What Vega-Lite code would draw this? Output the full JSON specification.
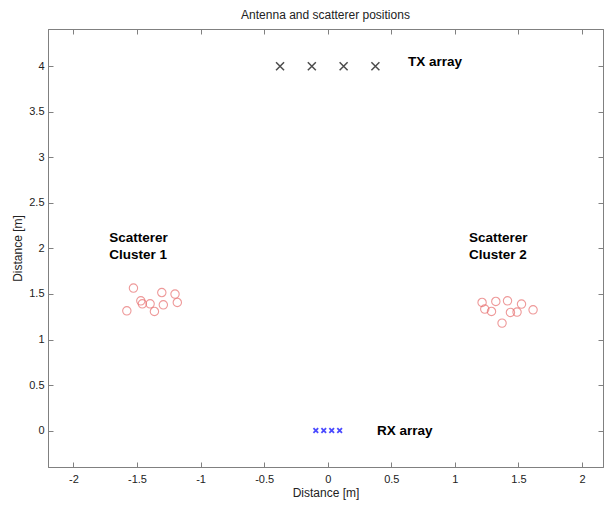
{
  "$schema": "https://vega.github.io/schema/vega-lite/v6.json",
  "autosize": "none",
  "width": 555,
  "height": 438,
  "padding": {"left": 48, "top": 29, "right": 5, "bottom": 39},
  "background": "white",
  "config": {
    "font": "Liberation Sans",
    "view": {"stroke": "#808080", "strokeWidth": 1},
    "axis": {
      "grid": false,
      "domainColor": "#808080",
      "tickColor": "#808080",
      "tickSize": -5,
      "labelFont": "Liberation Sans",
      "labelFontSize": 11,
      "labelColor": "#222222",
      "titleFont": "Liberation Sans",
      "titleFontSize": 12,
      "titleFontWeight": "normal",
      "titleColor": "#222222"
    }
  },
  "title": {
    "text": "Antenna and scatterer positions",
    "fontSize": 12,
    "fontWeight": "normal",
    "font": "Liberation Sans",
    "color": "#222222",
    "anchor": "middle",
    "offset": 7
  },
  "datasets": {
    "scatterers": [
      {"x": -1.528, "y": 1.565, "cluster": "1"},
      {"x": -1.305, "y": 1.516, "cluster": "1"},
      {"x": -1.201, "y": 1.499, "cluster": "1"},
      {"x": -1.470, "y": 1.425, "cluster": "1"},
      {"x": -1.458, "y": 1.392, "cluster": "1"},
      {"x": -1.397, "y": 1.392, "cluster": "1"},
      {"x": -1.293, "y": 1.381, "cluster": "1"},
      {"x": -1.183, "y": 1.407, "cluster": "1"},
      {"x": -1.580, "y": 1.315, "cluster": "1"},
      {"x": -1.363, "y": 1.308, "cluster": "1"},
      {"x": 1.214, "y": 1.407, "cluster": "2"},
      {"x": 1.322, "y": 1.418, "cluster": "2"},
      {"x": 1.414, "y": 1.425, "cluster": "2"},
      {"x": 1.524, "y": 1.389, "cluster": "2"},
      {"x": 1.235, "y": 1.334, "cluster": "2"},
      {"x": 1.288, "y": 1.308, "cluster": "2"},
      {"x": 1.437, "y": 1.297, "cluster": "2"},
      {"x": 1.489, "y": 1.301, "cluster": "2"},
      {"x": 1.615, "y": 1.326, "cluster": "2"},
      {"x": 1.371, "y": 1.180, "cluster": "2"}
    ],
    "tx": [
      {"x": -0.375, "y": 4},
      {"x": -0.125, "y": 4},
      {"x": 0.125, "y": 4},
      {"x": 0.375, "y": 4}
    ],
    "rx": [
      {"x": -0.09375, "y": 0},
      {"x": -0.03125, "y": 0},
      {"x": 0.03125, "y": 0},
      {"x": 0.09375, "y": 0}
    ],
    "labels": [
      {"x": 0.631, "y": 4.05, "label": "TX array"},
      {"x": 0.387, "y": 0.0, "label": "RX array"},
      {"x": -1.719, "y": 2.114, "label": "Scatterer\nCluster 1"},
      {"x": 1.111, "y": 2.114, "label": "Scatterer\nCluster 2"}
    ]
  },
  "layer": [
    {
      "data": {"name": "scatterers"},
      "mark": {"type": "point", "shape": "circle", "filled": false, "stroke": "#e86f6f", "strokeWidth": 1.1, "size": 70},
      "encoding": {
        "x": {
          "field": "x", "type": "quantitative",
          "scale": {"domain": [-2.2, 2.165], "nice": false, "zero": false},
          "axis": {"orient": "bottom", "title": "Distance [m]", "values": [-2, -1.5, -1, -0.5, 0, 0.5, 1, 1.5, 2], "labelPadding": 11, "titlePadding": 3, "labelExpr": "toString(datum.value)"}
        },
        "y": {
          "field": "y", "type": "quantitative",
          "scale": {"domain": [-0.4, 4.41], "nice": false, "zero": false},
          "axis": {"orient": "left", "title": "Distance [m]", "values": [0, 0.5, 1, 1.5, 2, 2.5, 3, 3.5, 4], "labelPadding": 9, "titlePadding": 4, "labelExpr": "toString(datum.value)"}
        }
      }
    },
    {
      "data": {"name": "tx"},
      "mark": {"type": "point", "shape": "M-1,-1L1,1M-1,1L1,-1", "filled": false, "stroke": "#000000", "strokeWidth": 1.5, "size": 64},
      "encoding": {
        "x": {
          "field": "x", "type": "quantitative",
          "scale": {"domain": [-2.2, 2.165], "nice": false, "zero": false},
          "axis": {"orient": "top", "title": null, "labels": false, "values": [-2, -1.5, -1, -0.5, 0, 0.5, 1, 1.5, 2]}
        },
        "y": {
          "field": "y", "type": "quantitative",
          "scale": {"domain": [-0.4, 4.41], "nice": false, "zero": false},
          "axis": {"orient": "right", "title": null, "labels": false, "values": [0, 0.5, 1, 1.5, 2, 2.5, 3, 3.5, 4]}
        }
      }
    },
    {
      "data": {"name": "rx"},
      "mark": {"type": "point", "shape": "M-1,-1L1,1M-1,1L1,-1", "filled": false, "stroke": "#0000ff", "strokeWidth": 1.8, "size": 22},
      "encoding": {
        "x": {"field": "x", "type": "quantitative", "scale": {"domain": [-2.2, 2.165], "nice": false, "zero": false}, "axis": null},
        "y": {"field": "y", "type": "quantitative", "scale": {"domain": [-0.4, 4.41], "nice": false, "zero": false}, "axis": null}
      }
    },
    {
      "data": {"name": "labels"},
      "mark": {"type": "text", "align": "left", "baseline": "middle", "fontWeight": "bold", "fontSize": 13.5, "font": "Liberation Sans", "color": "#000000", "lineBreak": "\n", "lineHeight": 17.4},
      "encoding": {
        "x": {"field": "x", "type": "quantitative", "scale": {"domain": [-2.2, 2.165], "nice": false, "zero": false}, "axis": null},
        "y": {"field": "y", "type": "quantitative", "scale": {"domain": [-0.4, 4.41], "nice": false, "zero": false}, "axis": null},
        "text": {"field": "label"}
      }
    }
  ],
  "resolve": {"axis": {"x": "independent", "y": "independent"}}
}
